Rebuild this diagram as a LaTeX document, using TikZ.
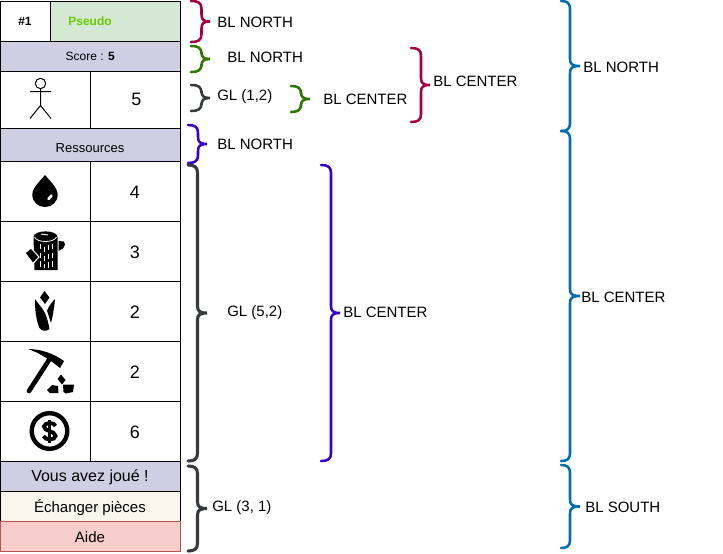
\documentclass[tikz,border=0pt]{standalone}
\usepackage{fontspec}
\setmainfont{Liberation Sans}
\begin{document}
\begin{tikzpicture}[x=0.75pt,y=-0.75pt,line join=miter,
  cell/.style={draw=black,line width=0.75pt},
  brace/.style={line width=1.9pt,line cap=round},
  lab/.style={font=\fontsize{11.25pt}{13pt}\selectfont,text=black,inner sep=0pt},
  small/.style={font=\fontsize{9pt}{11pt}\selectfont,text=black,inner sep=0pt},
  ico/.style={fill=black,draw=none}]
\definecolor{cCrim}{HTML}{A50040}
\definecolor{cGreen}{HTML}{2D7600}
\definecolor{cGray}{HTML}{36393D}
\definecolor{cPurple}{HTML}{3700CC}
\definecolor{cBlue}{HTML}{006EAF}
\definecolor{cLilac}{HTML}{D0CEE2}
\definecolor{cPale}{HTML}{D5E8D4}
\definecolor{cCream}{HTML}{F9F7ED}
\definecolor{cPink}{HTML}{F8CECC}
\definecolor{cRed}{HTML}{B85450}
\definecolor{cPseudo}{HTML}{66CC00}
\useasboundingbox (0,0) rectangle (723,553);
\newcommand{\curly}[6]{% color x0 xmid xtip ytop ybot
  \draw[brace,#1] (#2,#5) .. controls ({#3-3},#5) and (#3,{#5+2}) .. (#3,{#5+8})
    -- (#3,{(#5+#6)/2-7}) .. controls (#3,{(#5+#6)/2-2}) and ({#3+2},{(#5+#6)/2}) .. (#4,{(#5+#6)/2})
    .. controls ({#3+2},{(#5+#6)/2}) and (#3,{(#5+#6)/2+2}) .. (#3,{(#5+#6)/2+7})
    -- (#3,{#6-8}) .. controls (#3,{#6-2}) and ({#3-3},#6) .. (#2,#6);}
% table
\begin{scope}[shift={(-0.5,0.4)}]
\path[cell,fill=white] (1,1) rectangle (51,41);
\path[cell,fill=cPale] (51,1) rectangle (181,41);
\path[cell,fill=cLilac] (1,41) rectangle (181,71);
\path[cell] (1,71) rectangle (91,128);
\path[cell] (91,71) rectangle (181,128);
\path[cell,fill=cLilac] (1,128) rectangle (181,161);
\foreach \a/\b in {161/221,221/281,281/341,341/401,401/461}{
  \path[cell] (1,\a) rectangle (91,\b);
  \path[cell] (91,\a) rectangle (181,\b);}
\path[cell,fill=cLilac] (1,461) rectangle (181,491);
\path[cell,fill=cCream] (1,491) rectangle (181,521);
\path[cell,fill=cPink,draw=cRed] (1,521) rectangle (181,551);
\end{scope}
% table text
\node[small,font=\fontsize{9pt}{11pt}\selectfont\bfseries] (rank) at (25,21.5) {\#1};
\node[small,font=\fontsize{9pt}{11pt}\selectfont\bfseries,text=cPseudo] (pseudo) at (90,21.5) {Pseudo};
\node[small] (score) at (90.3,56.5) {Score : \textbf{5}};
\node[lab,font=\fontsize{13.5pt}{15pt}\selectfont] (v1) at (136.5,99) {5};
\node[small,font=\fontsize{9.75pt}{11pt}\selectfont] (res) at (90,148) {Ressources};
\node[lab,font=\fontsize{13.5pt}{15pt}\selectfont] (v2) at (135,192) {4};
\node[lab,font=\fontsize{13.5pt}{15pt}\selectfont] (v3) at (135,252) {3};
\node[lab,font=\fontsize{13.5pt}{15pt}\selectfont] (v4) at (135,312) {2};
\node[lab,font=\fontsize{13.5pt}{15pt}\selectfont] (v5) at (135,372) {2};
\node[lab,font=\fontsize{13.5pt}{15pt}\selectfont] (v6) at (135,432) {6};
\node[lab,font=\fontsize{12pt}{14pt}\selectfont] (joue) at (90,477.5) {Vous avez joué !};
\node[lab] (ech) at (90,507.5) {Échanger pièces};
\node[lab] (aide) at (90,537.5) {Aide};
% stick figure
\draw[line width=0.75pt] (40.5,83.5) circle (5.2) (30,91.5) -- (51,91.5) (40.5,88.7) -- (40.5,105.5) (30,118.5) -- (40.5,105.5) -- (51,118.5);
% drop
\fill[ico] (45,175) .. controls (40,181) and (32.3,188) .. (32.3,194.5)
  .. controls (32.3,202) and (38,207) .. (45,207)
  .. controls (52,207) and (57.7,202) .. (57.7,194.5)
  .. controls (57.7,188) and (50,181) .. (45,175) -- cycle;
\draw[white,line width=2pt,line cap=round] (48.5,199) -- (51.5,195.5);
% log
\fill[ico] (33.5,237) .. controls (34,229.5) and (57,229.5) .. (57.5,237) -- (57.5,270) -- (34.5,270) -- cycle;
\fill[ico] (58.5,241) -- (64,241.5) -- (65,244.5) -- (63,248.5) -- (58.5,251) -- cycle;
\fill[ico,draw=white,line width=0.8pt] (25,253) -- (31,248) -- (39,257) -- (33,263.5) -- cycle;
\draw[white,line width=0.6pt] (34.5,237) .. controls (37,243) and (54,243) .. (56.5,237);
\draw[white,line width=0.7pt] (41,234) -- (48,235);
\draw[white,line width=0.6pt,dash pattern=on 4pt off 2.5pt] (40,244) -- (40,268) (44,247) -- (44,268) (48,245) -- (48,268) (52,244) -- (52,267);
% corn
\fill[ico] (44.5,291) -- (49.5,297.5) -- (45,304) -- (40,297.5) -- cycle;
\fill[ico] (35,299) .. controls (38,304) and (42,307) .. (45,313) .. controls (47,318) and (48.5,323) .. (49.5,329) .. controls (47,331.5) and (41.5,331.5) .. (39.5,328) .. controls (36,320) and (35,310) .. (35,299) -- cycle;
\fill[ico] (55,299) .. controls (54.5,306) and (53,315) .. (51,323) -- (47,310.5) .. controls (49,306) and (52,302) .. (55,299) -- cycle;
% pickaxe
\fill[ico] (28,349) .. controls (40,349) and (53,353) .. (64,361) -- (60,368) .. controls (50,360) and (40,353) .. (28,349) -- cycle;
\draw[line width=3.5pt,line cap=round] (49,360) -- (29,391);
\fill[ico] (61,374.5) -- (65.5,380) -- (62,384.5) -- (57.5,379) -- cycle;
\fill[ico] (47,390) -- (52,385) -- (58,386) -- (58.5,393) -- (50,393) -- cycle;
\fill[ico] (63,384.5) -- (74,384.5) -- (73,392) -- (66,393.5) -- (63.5,392) -- cycle;
% coin
\draw[line width=3.3pt] (49.5,431) circle (17.8);
\draw[line width=2.9pt] (55.5,426) .. controls (54.5,422) and (44.5,422) .. (44,426.5) .. controls (43.5,431.5) and (55.5,430.5) .. (55.5,436) .. controls (55.5,440.5) and (44.5,440.5) .. (43.5,436);
\draw[line width=2.4pt] (49.5,419.5) -- (49.5,443);
% braces
\curly{cCrim}{191}{201.5}{210}{1}{42}
\curly{cGreen}{191}{201.5}{210}{46}{72}
\curly{cGray}{191}{201.5}{210}{85}{111}
\curly{cPurple}{188}{198}{207}{125}{163}
\curly{cGray,line width=2.3pt}{188}{197.5}{207}{165}{461}
\curly{cGray,line width=2.3pt}{188}{197.5}{207}{466}{551}
\curly{cGreen}{291}{301}{310}{86}{112}
\curly{cCrim}{411}{421}{430}{48}{122}
\curly{cPurple}{321}{331}{340}{165}{461}
\curly{cBlue}{561}{570}{580}{1}{131}
\curly{cBlue}{561}{570}{580}{131}{461}
\curly{cBlue}{561}{570}{580}{465}{548}
% labels
\node[lab,anchor=west] (l1) at (217,22) {BL NORTH};
\node[lab,anchor=west] (l2) at (227,57) {BL NORTH};
\node[lab,anchor=west] (l3) at (217,97) {GL (1,2)};
\node[lab,anchor=west] (l4) at (323,99) {BL CENTER};
\node[lab,anchor=west] (l5) at (433,81) {BL CENTER};
\node[lab,anchor=west] (l6) at (217,144) {BL NORTH};
\node[lab,anchor=west] (l7) at (227,312.5) {GL (5,2)};
\node[lab,anchor=west] (l8) at (343,312) {BL CENTER};
\node[lab,anchor=west] (l9) at (212,507.5) {GL (3, 1)};
\node[lab,anchor=west] (l10) at (583,67) {BL NORTH};
\node[lab,anchor=west] (l11) at (581,297) {BL CENTER};
\node[lab,anchor=west] (l12) at (585,507) {BL SOUTH};
\end{tikzpicture}
\end{document}
